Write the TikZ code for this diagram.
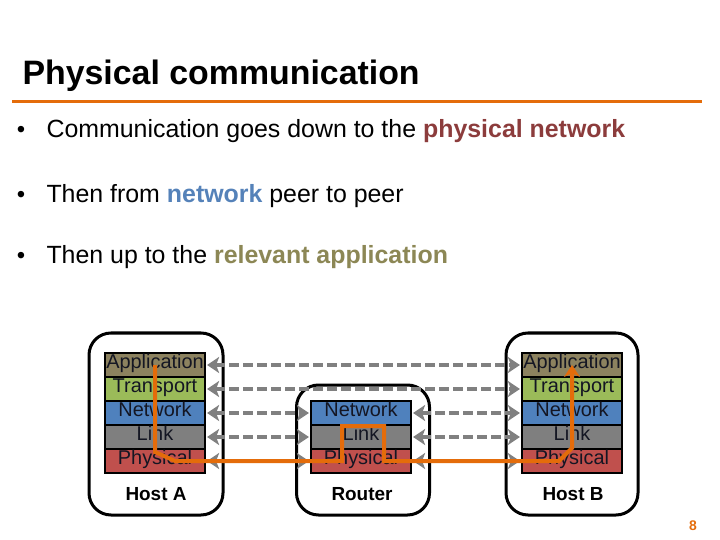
\documentclass[tikz,border=0pt]{standalone}
\usepackage{fontspec}
\setmainfont{Liberation Sans}
\usetikzlibrary{arrows.meta}
\definecolor{accent}{RGB}{228,108,10}
\definecolor{peergray}{RGB}{128,128,128}
\definecolor{appcol}{RGB}{140,130,95}
\definecolor{tracol}{RGB}{155,187,89}
\definecolor{netcol}{RGB}{79,129,189}
\definecolor{lnkcol}{RGB}{127,127,127}
\definecolor{phycol}{RGB}{192,80,77}
\definecolor{physword}{RGB}{140,60,60}
\definecolor{netword}{RGB}{85,130,185}
\definecolor{appword}{RGB}{140,135,85}
\definecolor{layertext}{RGB}{20,22,35}

\begin{document}
\begin{tikzpicture}[x=1bp, y=-1bp,
    layer/.style={draw=black, line width=2.2bp, minimum width=100bp, minimum height=24bp,
      inner sep=0pt, text height=0.72em, text depth=0pt, text=layertext,
      font=\fontsize{20}{20}\selectfont},
    hostbox/.style={draw=black, line width=3bp, rounded corners=22bp, inner sep=0pt},
    hostlabel/.style={anchor=base, font=\bfseries\fontsize{19}{20}\selectfont},
    bullettext/.style={anchor=base west, font=\fontsize{25}{28}\selectfont},
    peer/.style={draw=peergray, line width=4bp, dash pattern=on 10bp off 4bp,
      {Stealth[length=12bp,width=16bp,inset=3bp]}-{Stealth[length=12bp,width=16bp,inset=3bp]},
      shorten <=1bp, shorten >=1bp},
    flow/.style={draw=accent, line width=4bp, -{Stealth[length=12bp,width=16bp]}}]
      \useasboundingbox (0,0) rectangle (720,540);
      \node[anchor=base west, font=\bfseries\fontsize{34}{38}\selectfont] (title) at (19,85) {Physical communication};
      \draw[accent, line width=3bp] (12,102) -- (702,102);
      \node[bullettext] (b1) at (43,138) {Communication goes down to the \textbf{\color{physword}physical network}};
      \node[bullettext] (b2) at (43,203) {Then from \textbf{\color{netword}network} peer to peer};
      \node[bullettext] (b3) at (43,264) {Then up to the \textbf{\color{appword}relevant application}};
      \node[anchor=base, font=\fontsize{24}{28}\selectfont] at (21,138) {•};
      \node[anchor=base, font=\fontsize{24}{28}\selectfont] at (21,203) {•};
      \node[anchor=base, font=\fontsize{24}{28}\selectfont] at (21,264) {•};

      \node[hostbox, minimum width=134bp, minimum height=182bp] (hostA) at (156,424) {};
      \node[hostbox, minimum width=133bp, minimum height=130bp] (router) at (363,450) {};
      \node[hostbox, minimum width=132bp, minimum height=182bp] (hostB) at (572,424) {};
      \node[hostlabel] (hostA-label) at (156,500) {Host A};
      \node[hostlabel] (router-label) at (362,500) {Router};
      \node[hostlabel] (hostB-label) at (573,500) {Host B};

      \node[layer, fill=appcol] (A-app) at (155,365) {Application};
      \node[layer, fill=tracol] (A-tra) at (155,389) {Transport};
      \node[layer, fill=netcol] (A-net) at (155,413) {Network};
      \node[layer, fill=lnkcol] (A-lnk) at (155,437) {Link};
      \node[layer, fill=phycol] (A-phy) at (155,461) {Physical};
      \node[layer, fill=netcol] (R-net) at (361,413) {Network};
      \node[layer, fill=lnkcol] (R-lnk) at (361,437) {Link};
      \node[layer, fill=phycol] (R-phy) at (361,461) {Physical};
      \node[layer, fill=appcol] (B-app) at (572,365) {Application};
      \node[layer, fill=tracol] (B-tra) at (572,389) {Transport};
      \node[layer, fill=netcol] (B-net) at (572,413) {Network};
      \node[layer, fill=lnkcol] (B-lnk) at (572,437) {Link};
      \node[layer, fill=phycol] (B-phy) at (572,461) {Physical};

      \draw[peer] (A-app.east) -- (B-app.west);
      \draw[peer] (A-tra.east) -- (B-tra.west);
      \draw[peer] (A-net.east) -- (R-net.west);
      \draw[peer] (A-lnk.east) -- (R-lnk.west);
      \draw[peer] (A-phy.east) -- (R-phy.west);
      \draw[peer] (R-net.east) -- (B-net.west);
      \draw[peer] (R-lnk.east) -- (B-lnk.west);
      \draw[peer] (R-phy.east) -- (B-phy.west);

      \draw[flow] (A-app.center) -- ([yshift=9bp]A-app.center |- A-phy.center) -- ([xshift=20bp]A-phy.center)
        -- ([xshift=-19bp]R-phy.center) -- ([xshift=-19bp]R-net.south) -- ([xshift=23bp]R-net.south)
        -- ([xshift=23bp]R-phy.center) -- ([xshift=-13bp]B-phy.center) -- ([yshift=13bp]B-phy.center)
        -- (B-app.center);

      \node[anchor=base, text=accent, font=\bfseries\fontsize{14}{16}\selectfont] (page) at (693,530) {8};
\end{tikzpicture}
\end{document}
